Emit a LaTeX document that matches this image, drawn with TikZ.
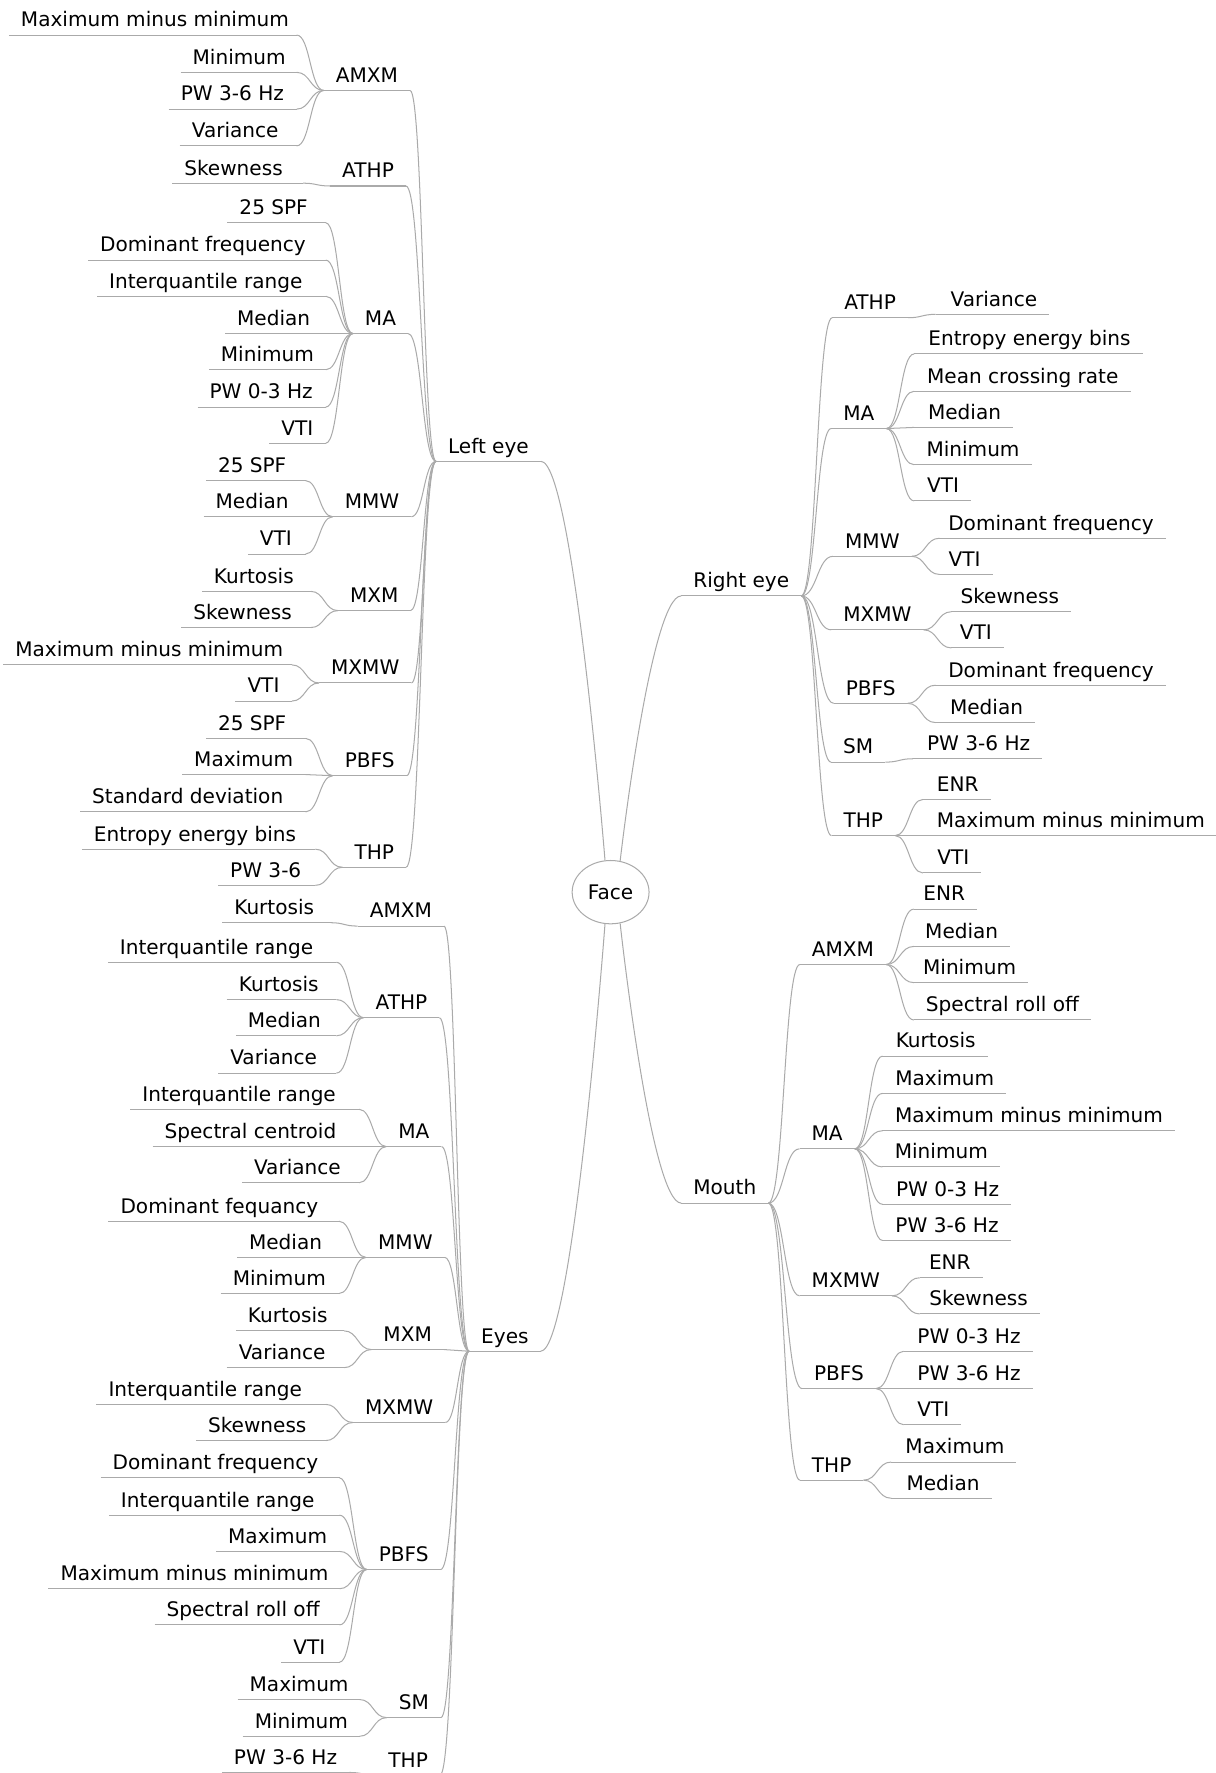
\documentclass[tikz,border=0pt]{standalone}
\usepackage{fontspec}
\setmainfont{DejaVu Sans}
\usetikzlibrary{shapes.geometric,calc}
\definecolor{lc}{RGB}{170,170,170}
\tikzset{
  lf/.style={inner xsep=10.5pt, inner ysep=3pt, text height=13pt, text depth=4pt,
             font=\fontsize{17.75}{21}\selectfont},
  ln/.style={draw=lc, line width=0.9pt},
  facebox/.style={ellipse, draw=lc, line width=0.9pt, minimum width=68pt,
             minimum height=56pt, inner sep=0pt, font=\fontsize{17.75}{21}\selectfont}
}
% connector: horizontal tangents at both ends
\newcommand\mconn[2]{\draw[ln] let \p1=(#1), \p2=(#2) in
  (\p1) .. controls (\x1/2+\x2/2,\y1) and (\x1/2+\x2/2,\y2) .. (\p2);}
% connector to the face ellipse
\newcommand\fconn[2]{\draw[ln] let \p1=(#1), \p2=(#2) in
  (\p1) .. controls (\x1/2+\x2/2,\y1) and (\p2) .. (\p2);}
% middle node: name, centre x, underline y, text
\newcommand\mmnode[4]{\node[lf,anchor=south] (#1) at (#2,#3) {#4};
  \draw[ln] (#1.south west) -- (#1.south east);}
% left leaf: name, parent, text centre x, underline y, text
\newcommand\lleaf[5]{\node[lf,anchor=south] (#1) at (#3,#4) {#5};
  \path let \p1=(#2.south west) in coordinate (#1n) at (\x1-24pt,-#4pt);
  \draw[ln] (#1.south west) -- (#1n);
  \mconn{#1n}{#2.south west}}
% right leaf: name, parent, text centre x, underline y, text
\newcommand\rleaf[5]{\node[lf,anchor=south] (#1) at (#3,#4) {#5};
  \path let \p1=(#2.south east) in coordinate (#1n) at (\x1+24.5pt,-#4pt);
  \draw[ln] (#1n) -- (#1.south east);
  \mconn{#2.south east}{#1n}}
% left middle / right middle connection to main
\newcommand\lmid[5]{\mmnode{#1}{#3}{#4}{#5}\mconn{#1.south east}{#2.south west}}
\newcommand\rmid[5]{\mmnode{#1}{#3}{#4}{#5}\mconn{#2.south east}{#1.south west}}
\begin{document}
\begin{tikzpicture}[x=1pt,y=-1pt]
\useasboundingbox (0,0) rectangle (1075,1568);

\node[facebox] (F) at (540,789) {Face};

% ---------------- Left eye ----------------
\mmnode{LE}{432}{408}{Left eye}
\fconn{LE.south east}{F.100}

\lmid{La}{LE}{324.5}{80}{AMXM}
\lleaf{La1}{La}{137}{31}{Maximum minus minimum}
\lleaf{La2}{La}{211.5}{64}{Minimum}
\lleaf{La3}{La}{205.5}{96.5}{PW 3-6 Hz}
\lleaf{La4}{La}{208}{129}{Variance}

\lmid{Lb}{LE}{325.5}{164.5}{ATHP}
\lleaf{Lb1}{Lb}{206.5}{162}{Skewness}

\lmid{Lc}{LE}{336.5}{295}{MA}
\lleaf{Lc1}{Lc}{242}{197}{25 SPF}
\lleaf{Lc2}{Lc}{179.5}{230}{Dominant frequency}
\lleaf{Lc3}{Lc}{182}{262}{Interquantile range}
\lleaf{Lc4}{Lc}{242}{295}{Median}
\lleaf{Lc5}{Lc}{236.5}{327}{Minimum}
\lleaf{Lc6}{Lc}{231}{360}{PW 0-3 Hz}
\lleaf{Lc7}{Lc}{263}{392}{VTI}

\lmid{Ld}{LE}{329}{457}{MMW}
\lleaf{Ld1}{Ld}{223}{425}{25 SPF}
\lleaf{Ld2}{Ld}{223}{457}{Median}
\lleaf{Ld3}{Ld}{244}{490}{VTI}

\lmid{Le}{LE}{331}{540}{MXM}
\lleaf{Le1}{Le}{224.5}{523}{Kurtosis}
\lleaf{Le2}{Le}{214.5}{555}{Skewness}

\lmid{Lf}{LE}{323}{604}{MXMW}
\lleaf{Lf1}{Lf}{132}{588}{Maximum minus minimum}
\lleaf{Lf2}{Lf}{233}{620}{VTI}

\lmid{Lg}{LE}{327}{686}{PBFS}
\lleaf{Lg1}{Lg}{223}{653}{25 SPF}
\lleaf{Lg2}{Lg}{215.5}{685}{Maximum}
\lleaf{Lg3}{Lg}{166}{718}{Standard deviation}

\lmid{Lh}{LE}{331}{767}{THP}
\lleaf{Lh1}{Lh}{172.5}{751}{Entropy energy bins}
\lleaf{Lh2}{Lh}{235}{783}{PW 3-6}

% ---------------- Eyes ----------------
\mmnode{EY}{446.5}{1195}{Eyes}
\fconn{EY.south east}{F.260}

\lmid{Ea}{EY}{354.5}{819}{AMXM}
\lleaf{Ea1}{Ea}{242.5}{816}{Kurtosis}

\lmid{Eb}{EY}{355}{900}{ATHP}
\lleaf{Eb1}{Eb}{191.5}{851}{Interquantile range}
\lleaf{Eb2}{Eb}{246.5}{884}{Kurtosis}
\lleaf{Eb3}{Eb}{251.5}{916}{Median}
\lleaf{Eb4}{Eb}{242}{949}{Variance}

\lmid{Ec}{EY}{366}{1014}{MA}
\lleaf{Ec1}{Ec}{211.5}{981}{Interquantile range}
\lleaf{Ec2}{Ec}{221.5}{1014}{Spectral centroid}
\lleaf{Ec3}{Ec}{263}{1046}{Variance}

\lmid{Ed}{EY}{358.5}{1112}{MMW}
\lleaf{Ed1}{Ed}{194}{1080}{Dominant fequancy}
\lleaf{Ed2}{Ed}{252.5}{1112}{Median}
\lleaf{Ed3}{Ed}{247}{1144}{Minimum}

\lmid{Ee}{EY}{360.5}{1193.5}{MXM}
\lleaf{Ee1}{Ee}{254.5}{1177}{Kurtosis}
\lleaf{Ee2}{Ee}{249.5}{1209.5}{Variance}

\lmid{Ef}{EY}{353}{1258}{MXMW}
\lleaf{Ef1}{Ef}{181.5}{1242}{Interquantile range}
\lleaf{Ef2}{Ef}{227.5}{1274}{Skewness}

\lmid{Eg}{EY}{357}{1388}{PBFS}
\lleaf{Eg1}{Eg}{190.5}{1307}{Dominant frequency}
\lleaf{Eg2}{Eg}{192.5}{1340}{Interquantile range}
\lleaf{Eg3}{Eg}{245.5}{1372}{Maximum}
\lleaf{Eg4}{Eg}{172}{1405}{Maximum minus minimum}
\lleaf{Eg5}{Eg}{215}{1437}{Spectral roll off}
\lleaf{Eg6}{Eg}{273.5}{1470}{VTI}

\lmid{Eh}{EY}{366}{1519}{SM}
\lleaf{Eh1}{Eh}{264.5}{1503}{Maximum}
\lleaf{Eh2}{Eh}{266.5}{1535.5}{Minimum}

\lmid{Ei}{EY}{361}{1570}{THP}
\lleaf{Ei1}{Ei}{252.5}{1567.5}{PW 3-6 Hz}

% ---------------- Right eye ----------------
\mmnode{RE}{655.5}{527}{Right eye}
\fconn{RE.south west}{F.73}

\rmid{Ra}{RE}{769.5}{281}{ATHP}
\rleaf{Ra1}{Ra}{879}{278}{Variance}

\rmid{Rb}{RE}{759.5}{379}{MA}
\rleaf{Rb1}{Rb}{910.5}{313}{Entropy energy bins}
\rleaf{Rb2}{Rb}{904.5}{346}{Mean crossing rate}
\rleaf{Rb3}{Rb}{853}{378}{Median}
\rleaf{Rb4}{Rb}{860.5}{411}{Minimum}
\rleaf{Rb5}{Rb}{834}{443}{VTI}

\rmid{Rc}{RE}{771.5}{492}{MMW}
\rleaf{Rc1}{Rc}{929.5}{476}{Dominant frequency}
\rleaf{Rc2}{Rc}{853}{508}{VTI}

\rmid{Rd}{RE}{776}{557}{MXMW}
\rleaf{Rd1}{Rd}{893}{541}{Skewness}
\rleaf{Rd2}{Rd}{863}{573}{VTI}

\rmid{Re}{RE}{770}{622}{PBFS}
\rleaf{Re1}{Re}{929.5}{606}{Dominant frequency}
\rleaf{Re2}{Re}{872.5}{639}{Median}

\rmid{Rf}{RE}{759}{674}{SM}
\rleaf{Rf1}{Rf}{865.5}{671}{PW 3-6 Hz}

\rmid{Rg}{RE}{763.5}{739}{THP}
\rleaf{Rg1}{Rg}{847}{707}{ENR}
\rleaf{Rg2}{Rg}{947}{739}{Maximum minus minimum}
\rleaf{Rg3}{Rg}{843}{772}{VTI}

% ---------------- Mouth ----------------
\mmnode{MO}{641}{1064}{Mouth}
\fconn{MO.south west}{F.287}

\rmid{Ma}{MO}{745.5}{853}{AMXM}
\rleaf{Ma1}{Ma}{835}{804}{ENR}
\rleaf{Ma2}{Ma}{850.5}{837}{Median}
\rleaf{Ma3}{Ma}{857.5}{869}{Minimum}
\rleaf{Ma4}{Ma}{886.5}{902}{Spectral roll off}

\rmid{Mb}{MO}{731.5}{1016}{MA}
\rleaf{Mb1}{Mb}{827.5}{934}{Kurtosis}
\rleaf{Mb2}{Mb}{835.5}{967}{Maximum}
\rleaf{Mb3}{Mb}{910}{1000}{Maximum minus minimum}
\rleaf{Mb4}{Mb}{832.5}{1032}{Minimum}
\rleaf{Mb5}{Mb}{838}{1065}{PW 0-3 Hz}
\rleaf{Mb6}{Mb}{837.5}{1097}{PW 3-6 Hz}

\rmid{Mc}{MO}{748}{1146}{MXMW}
\rleaf{Mc1}{Mc}{840}{1130}{ENR}
\rleaf{Mc2}{Mc}{865.5}{1162}{Skewness}

\rmid{Md}{MO}{742}{1228}{PBFS}
\rleaf{Md1}{Md}{857}{1195}{PW 0-3 Hz}
\rleaf{Md2}{Md}{857}{1228}{PW 3-6 Hz}
\rleaf{Md3}{Md}{825.5}{1260}{VTI}

\rmid{Me}{MO}{735.5}{1309}{THP}
\rleaf{Me1}{Me}{844.5}{1293}{Maximum}
\rleaf{Me2}{Me}{834}{1325}{Median}
\end{tikzpicture}
\end{document}
